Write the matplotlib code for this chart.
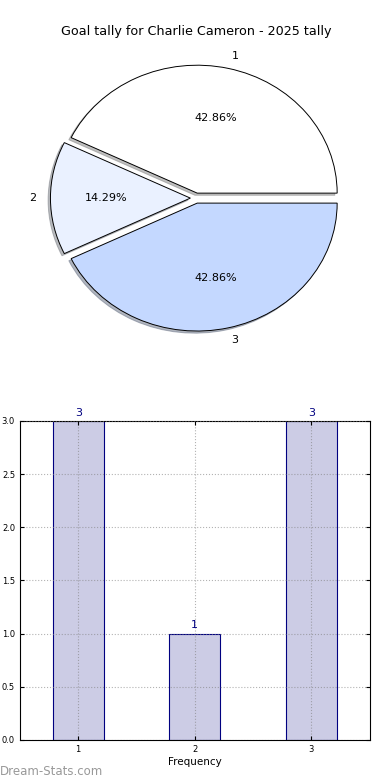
import matplotlib
matplotlib.use("Agg")
import matplotlib.pyplot as plt

# data
goal_values = [1, 2, 3]
counts = [3, 1, 3]
pie_labels = ['1', '2', '3']
pie_colors = ['#FFFFFF', '#EAF1FF', '#C4D8FF']
title = "Goal tally for Charlie Cameron - 2025 tally"

fig = plt.figure(figsize=(3.9, 7.8), dpi=100)

# pie chart on top
ax1 = fig.add_axes([0.054, 0.541, 0.897, 0.41])
ax1.pie(counts, labels=pie_labels, colors=pie_colors, autopct='%1.2f%%',
        explode=[0.04, 0.04, 0.04],
        shadow={'ox': -0.012, 'oy': -0.012, 'shade': 0.5},
        wedgeprops={'edgecolor': 'black', 'linewidth': 0.7},
        textprops={'fontsize': 8})
ax1.set_aspect('auto')
ax1.set_xlim(-1.25, 1.25)
ax1.set_ylim(-1.25, 1.25)
ax1.set_title(title, fontsize=9.2, pad=2)

# bar chart at the bottom
ax2 = fig.add_axes([0.051, 0.0513, 0.897, 0.409])
ax2.bar(goal_values, counts, width=0.44, color='navy', alpha=0.2)
ax2.bar(goal_values, counts, width=0.44, fill=False, edgecolor='navy', linewidth=0.8)
for x, c in zip(goal_values, counts):
    ax2.text(x, c + 0.03, str(c), ha='center', va='bottom', color='navy', fontsize=8)
ax2.set_xlim(0.5, 3.5)
ax2.set_ylim(0, 3.0)
ax2.set_xticks(goal_values)
ax2.set_yticks([0.0, 0.5, 1.0, 1.5, 2.0, 2.5, 3.0])
ax2.set_yticklabels(['0.0', '0.5', '1.0', '1.5', '2.0', '2.5', '3.0'])
ax2.tick_params(labelsize=6, direction='in', top=True, right=True, length=3)
ax2.grid(True, linestyle=':', color='gray', alpha=0.6)
ax2.set_axisbelow(False)
ax2.set_xlabel('Frequency', fontsize=7.5, labelpad=2)

fig.text(0.0, 0.006, 'Dream-Stats.com', fontsize=8.5, color='#999999')

fig.savefig('out.png', dpi=100)
